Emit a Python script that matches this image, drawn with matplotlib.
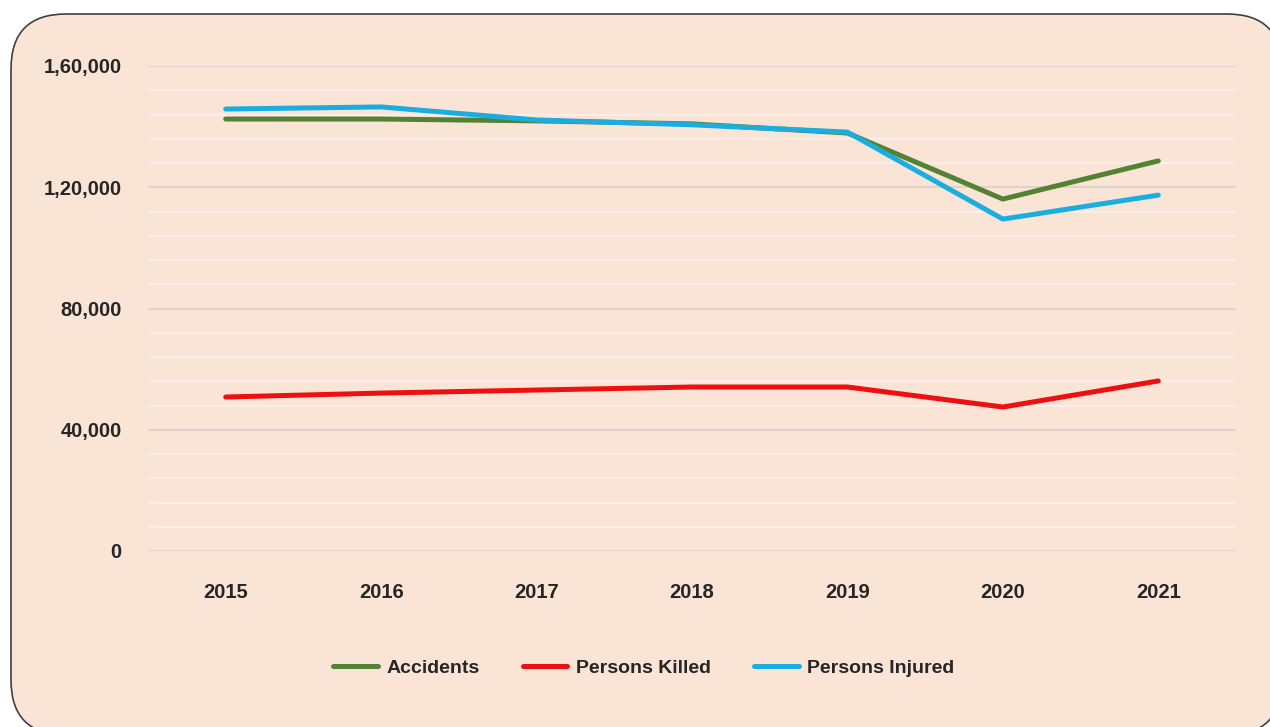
import numpy as np
import matplotlib.pyplot as plt
from matplotlib.patches import FancyBboxPatch
from matplotlib.ticker import MultipleLocator, FuncFormatter

# ── Data ──────────────────────────────────────────────────────────────────────
years = ["2015", "2016", "2017", "2018", "2019", "2020", "2021"]
accidents = [142500, 142500, 141900, 140900, 137900, 116100, 128700]
killed    = [50800, 52100, 53100, 54100, 54100, 47500, 56100]
injured   = [145800, 146500, 142200, 140600, 138200, 109500, 117400]

BG = "#FAE4D6"
FONT = ["Liberation Sans Narrow", "Liberation Sans", "DejaVu Sans"]
plt.rcParams["font.family"] = FONT


def indian_fmt(v, pos=None):
    v = int(round(v))
    s = str(v)
    if len(s) <= 3:
        return s
    head, tail = s[:-3], s[-3:]
    parts = []
    while len(head) > 2:
        parts.insert(0, head[-2:])
        head = head[:-2]
    if head:
        parts.insert(0, head)
    return ",".join(parts) + "," + tail


fig = plt.figure(figsize=(12.7, 7.27), dpi=100, facecolor="white")

# rounded frame behind everything (display pixels, origin bottom-left)
frame = FancyBboxPatch((11, -8), 1271, 727 - 14 + 8,
                       boxstyle="round,pad=0,rounding_size=55",
                       transform=None, facecolor=BG, edgecolor="#404040",
                       lw=1.2, zorder=-5)
fig.patches.append(frame)

ax = fig.add_axes([148 / 1270, 1 - 551 / 727, (1236 - 148) / 1270, (551 - 66) / 727])
ax.set_zorder(2)
ax.patch.set_alpha(0)

x = np.arange(len(years))
ax.plot(x, accidents, color="#548235", lw=3.6, solid_capstyle="round", label="Accidents", zorder=3)
ax.plot(x, killed,    color="#EE1010", lw=3.6, solid_capstyle="round", label="Persons Killed", zorder=3)
ax.plot(x, injured,   color="#1AAEE0", lw=3.6, solid_capstyle="round", label="Persons Injured", zorder=3)

ax.set_xlim(-0.5, len(years) - 0.5)
ax.set_ylim(0, 160000)
ax.yaxis.set_major_locator(MultipleLocator(40000))
ax.yaxis.set_minor_locator(MultipleLocator(8000))
ax.yaxis.set_major_formatter(FuncFormatter(indian_fmt))
ax.grid(True, which="major", axis="y", color="#DCCFC6", lw=1.2, zorder=1)
ax.grid(True, which="minor", axis="y", color="#FDF1EA", lw=1.2, zorder=1)

ax.set_xticks(x)
ax.set_xticklabels(years)
for s in ax.spines.values():
    s.set_visible(False)
ax.tick_params(axis="both", which="both", length=0)
ax.tick_params(axis="y", pad=19, labelsize=14.5)
ax.tick_params(axis="x", pad=23, labelsize=14.5)
for lab in ax.get_xticklabels() + ax.get_yticklabels():
    lab.set_fontweight("bold")
    lab.set_color("#262626")

leg = fig.legend(loc="center", bbox_to_anchor=(644 / 1270, 1 - 668 / 727), ncol=3,
                 frameon=False, handlelength=2.3, handletextpad=0.45, columnspacing=2.2,
                 prop={"family": FONT, "weight": "bold", "size": 14},
                 labelcolor="#262626")
leg.set_zorder(3)

plt.savefig("out.png", dpi=100, facecolor="white")
